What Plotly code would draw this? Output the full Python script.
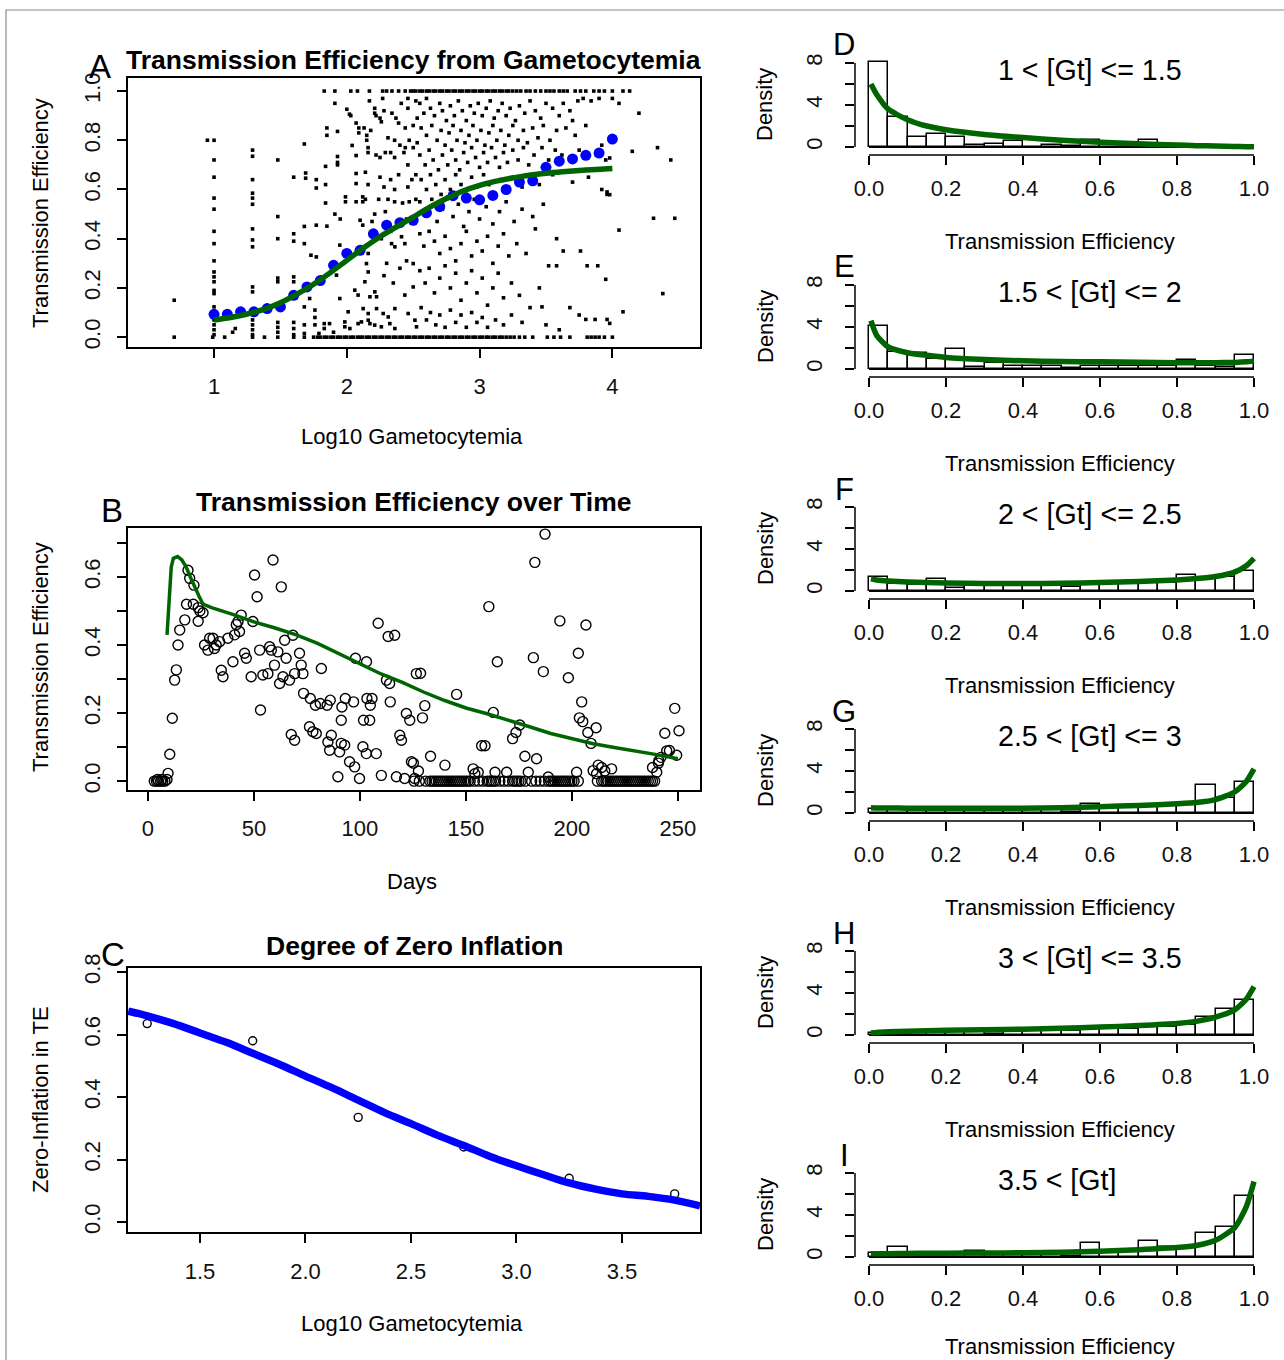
import plotly.graph_objects as go

W, H = 1284, 1360
FONT = "Liberation Sans, Arial, Helvetica, sans-serif"
GREEN = "#006400"
BLUE = "#0000ff"

# ---------------- Panel A : TE vs log10 gametocytemia ----------------
A_row0_x = [0.70, 0.99, 1.08, 1.29, 1.38, 1.48, 1.60, 1.68, 1.75, 1.78, 1.80, 1.83, 1.85, 1.88,
            1.90, 1.93, 1.95, 1.98, 2.00, 2.03, 2.05, 2.08, 2.10, 2.12, 2.15, 2.17, 2.20, 2.22,
            2.25, 2.27, 2.30, 2.32, 2.35, 2.37, 2.40, 2.42, 2.45, 2.47, 2.50, 2.52, 2.55, 2.57,
            2.60, 2.62, 2.65, 2.67, 2.70, 2.72, 2.75, 2.77, 2.80, 2.82, 2.85, 2.87, 2.90, 2.92,
            2.95, 2.97, 3.00, 3.02, 3.05, 3.07, 3.10, 3.12, 3.15, 3.17, 3.20, 3.23, 3.26, 3.30,
            3.34, 3.40, 3.51, 3.56, 3.61, 3.68, 3.81, 3.84, 3.87, 3.90, 3.94, 4.00]
A_row1_x = [1.83, 1.91, 2.03, 2.08, 2.17, 2.27, 2.30, 2.34, 2.39, 2.44, 2.48, 2.50, 2.52, 2.55,
            2.57, 2.60, 2.62, 2.65, 2.67, 2.70, 2.72, 2.75, 2.77, 2.80, 2.82, 2.85, 2.87, 2.90,
            2.92, 2.95, 2.97, 3.00, 3.02, 3.05, 3.07, 3.10, 3.12, 3.15, 3.17, 3.20, 3.22, 3.25,
            3.28, 3.31, 3.35, 3.38, 3.42, 3.46, 3.50, 3.53, 3.56, 3.60, 3.63, 3.66, 3.72, 3.76,
            3.80, 3.86, 3.90, 3.94, 4.00, 4.08, 4.13]
A_cloud = [
    (0.95, 0.80), (0.70, 0.15),
    (1.0, 0.80), (1.0, 0.72), (1.0, 0.65), (1.0, 0.565), (1.0, 0.52), (1.0, 0.43), (1.0, 0.38),
    (1.0, 0.31), (1.0, 0.265), (1.0, 0.245), (1.0, 0.225), (1.0, 0.19), (1.0, 0.177), (1.0, 0.123),
    (1.0, 0.07), (1.0, 0.05), (1.0, 0.03), (1.0, 0.01),
    (1.29, 0.76), (1.29, 0.735), (1.29, 0.64), (1.29, 0.585), (1.29, 0.565), (1.29, 0.54),
    (1.29, 0.44), (1.29, 0.395), (1.29, 0.367), (1.29, 0.204), (1.29, 0.184), (1.29, 0.07),
    (1.29, 0.05), (1.29, 0.03), (1.29, 0.01), (1.14, 0.02), (1.16, 0.035),
    (1.48, 0.72), (1.48, 0.49), (1.48, 0.40), (1.48, 0.24), (1.48, 0.225), (1.48, 0.06),
    (1.48, 0.04), (1.48, 0.02),
    (1.60, 0.65), (1.60, 0.42), (1.60, 0.39), (1.60, 0.245), (1.60, 0.225), (1.60, 0.06),
    (1.60, 0.035), (1.60, 0.01),
    (1.68, 0.785), (1.69, 0.667), (1.69, 0.646), (1.68, 0.45), (1.68, 0.38), (1.72, 0.157),
    (1.68, 0.123), (1.68, 0.05), (1.68, 0.015),
    (1.77, 0.64), (1.77, 0.606), (1.77, 0.455), (1.73, 0.333), (1.77, 0.326), (1.76, 0.11),
    (1.76, 0.08), (1.76, 0.05), (1.79, 0.015),
    (1.84, 0.694), (1.84, 0.62), (1.84, 0.545), (1.85, 0.451), (1.85, 0.85), (1.85, 0.82),
    (1.83, 0.035), (1.83, 0.055), (1.87, 0.055),
    (1.91, 0.95), (1.93, 0.836), (1.93, 0.734), (1.93, 0.71), (1.93, 0.70), (1.91, 0.50),
    (1.95, 0.48), (1.947, 0.374), (1.922, 0.252), (1.947, 0.157), (1.99, 0.57), (1.99, 0.55),
    (2.00, 0.926), (2.02, 0.906), (2.03, 0.90), (2.01, 0.103), (1.985, 0.042), (2.023, 0.035),
    (1.985, 0.062), (1.90, 0.02),
    (2.04, 0.779), (2.07, 0.738), (2.07, 0.665), (2.07, 0.624), (2.07, 0.55), (2.07, 0.87),
    (2.09, 0.85), (2.09, 0.83), (2.13, 0.85), (2.15, 0.82), (2.18, 0.84), (2.15, 0.80),
    (2.16, 0.77), (2.16, 0.75), (2.12, 0.57), (2.14, 0.67), (2.16, 0.62), (2.12, 0.55),
    (2.14, 0.56), (2.10, 0.475), (2.12, 0.455), (2.06, 0.191), (2.136, 0.225), (2.148, 0.299),
    (2.161, 0.34), (2.174, 0.164), (2.161, 0.265), (2.085, 0.171), (2.123, 0.116), (2.161, 0.069),
    (2.085, 0.055), (2.11, 0.062), (2.174, 0.055), (2.161, 0.096), (2.19, 0.47),
    (2.21, 0.93), (2.21, 0.91), (2.22, 0.90), (2.25, 0.89), (2.26, 0.875), (2.17, 0.96),
    (2.27, 0.97), (2.22, 0.74), (2.25, 0.73), (2.29, 0.75), (2.33, 0.75), (2.36, 0.73),
    (2.43, 0.75), (2.25, 0.65), (2.28, 0.61), (2.33, 0.64), (2.36, 0.60), (2.39, 0.66),
    (2.46, 0.61), (2.49, 0.64), (2.52, 0.66), (2.24, 0.56), (2.31, 0.56), (2.36, 0.55),
    (2.42, 0.545), (2.47, 0.55), (2.52, 0.56), (2.21, 0.50), (2.29, 0.51), (2.28, 0.92),
    (2.34, 0.91), (2.37, 0.89), (2.39, 0.87), (2.44, 0.85), (2.50, 0.86), (2.53, 0.89),
    (2.46, 0.93), (2.41, 0.95), (2.46, 0.97), (2.52, 0.96), (2.47, 0.80), (2.40, 0.78),
    (2.44, 0.77), (2.36, 0.80), (2.31, 0.81), (2.53, 0.79), (2.50, 0.77), (2.46, 0.70),
    (2.211, 0.184), (2.224, 0.164), (2.224, 0.116), (2.274, 0.096), (2.324, 0.055),
    (2.362, 0.035), (2.312, 0.082), (2.362, 0.116), (2.412, 0.408), (2.437, 0.38),
    (2.337, 0.38), (2.362, 0.367), (2.50, 0.299), (2.50, 0.204), (2.437, 0.171),
    (2.462, 0.096), (2.513, 0.069), (2.525, 0.042), (2.26, 0.042), (2.21, 0.049),
    (2.30, 0.30), (2.28, 0.25), (2.35, 0.22), (2.40, 0.28), (2.45, 0.31), (2.38, 0.46),
    (2.45, 0.48), (2.26, 0.40), (2.33, 0.43),
    (2.55, 0.95), (2.58, 0.91), (2.60, 0.97), (2.63, 0.93), (2.66, 0.90), (2.70, 0.95),
    (2.72, 0.92), (2.75, 0.88), (2.78, 0.94), (2.81, 0.90), (2.84, 0.96), (2.87, 0.92),
    (2.90, 0.88), (2.93, 0.94), (2.96, 0.91), (2.99, 0.95), (3.02, 0.90), (3.05, 0.93),
    (3.08, 0.96), (3.11, 0.89), (3.14, 0.92), (3.17, 0.95), (3.20, 0.90), (3.23, 0.93),
    (3.27, 0.88), (3.30, 0.94), (3.34, 0.91), (3.38, 0.96), (3.42, 0.92), (3.46, 0.89),
    (3.50, 0.95), (3.55, 0.93), (3.60, 0.90), (3.63, 0.95), (3.68, 0.92), (3.74, 0.96),
    (3.78, 0.97), (3.84, 0.96), (3.90, 0.97), (4.00, 0.97), (4.05, 0.95),
    (2.56, 0.85), (2.60, 0.82), (2.64, 0.86), (2.68, 0.80), (2.71, 0.84), (2.74, 0.78),
    (2.77, 0.83), (2.80, 0.86), (2.83, 0.80), (2.86, 0.84), (2.89, 0.79), (2.92, 0.82),
    (2.95, 0.86), (2.98, 0.80), (3.01, 0.84), (3.04, 0.78), (3.07, 0.83), (3.10, 0.86),
    (3.13, 0.80), (3.16, 0.84), (3.19, 0.78), (3.22, 0.82), (3.25, 0.86), (3.29, 0.80),
    (3.33, 0.84), (3.36, 0.79), (3.40, 0.85), (3.44, 0.81), (3.48, 0.86), (3.53, 0.80),
    (3.58, 0.84), (3.65, 0.85), (3.72, 0.82), (3.80, 0.86), (3.70, 0.88),
    (2.55, 0.74), (2.59, 0.70), (2.62, 0.76), (2.65, 0.72), (2.69, 0.68), (2.72, 0.74),
    (2.76, 0.70), (2.79, 0.76), (2.82, 0.72), (2.85, 0.68), (2.88, 0.75), (2.91, 0.71),
    (2.94, 0.77), (2.97, 0.73), (3.00, 0.69), (3.03, 0.75), (3.06, 0.71), (3.09, 0.77),
    (3.12, 0.73), (3.15, 0.69), (3.18, 0.75), (3.21, 0.71), (3.25, 0.76), (3.29, 0.72),
    (3.33, 0.77), (3.37, 0.70), (3.41, 0.74), (3.47, 0.77), (3.52, 0.72), (3.57, 0.76),
    (3.62, 0.74), (3.75, 0.76), (3.88, 0.74), (3.95, 0.72), (3.92, 0.78),
    (2.56, 0.64), (2.60, 0.60), (2.63, 0.66), (2.67, 0.62), (2.71, 0.58), (2.74, 0.64),
    (2.78, 0.60), (2.82, 0.66), (2.86, 0.62), (2.90, 0.58), (2.94, 0.65), (2.98, 0.61),
    (3.03, 0.66), (3.07, 0.62), (3.11, 0.58), (3.16, 0.64), (3.20, 0.60), (3.26, 0.65),
    (3.32, 0.61), (3.38, 0.66), (3.45, 0.62), (3.55, 0.66), (3.70, 0.63), (3.92, 0.60),
    (3.96, 0.58), (3.82, 0.65),
    (2.55, 0.55), (2.60, 0.50), (2.64, 0.56), (2.68, 0.47), (2.72, 0.52), (2.76, 0.57),
    (2.80, 0.49), (2.84, 0.54), (2.88, 0.45), (2.92, 0.51), (2.96, 0.56), (3.00, 0.48),
    (3.05, 0.53), (3.10, 0.46), (3.15, 0.51), (3.20, 0.55), (3.26, 0.47), (3.32, 0.52),
    (3.40, 0.49), (3.48, 0.54), (3.58, 0.40), (3.52, 0.29), (3.58, 0.29), (3.63, 0.35),
    (3.76, 0.35), (3.81, 0.29), (3.89, 0.29), (3.95, 0.235), (4.05, 0.435),
    (2.55, 0.42), (2.58, 0.37), (2.62, 0.43), (2.66, 0.39), (2.70, 0.34), (2.74, 0.41),
    (2.78, 0.36), (2.82, 0.31), (2.86, 0.38), (2.90, 0.43), (2.94, 0.33), (2.98, 0.39),
    (3.02, 0.35), (3.06, 0.41), (3.10, 0.30), (3.14, 0.37), (3.18, 0.42), (3.22, 0.33),
    (3.28, 0.38), (3.35, 0.34), (3.42, 0.44),
    (2.55, 0.27), (2.59, 0.22), (2.62, 0.28), (2.66, 0.18), (2.70, 0.24), (2.74, 0.29),
    (2.78, 0.20), (2.82, 0.26), (2.86, 0.15), (2.90, 0.22), (2.94, 0.27), (2.98, 0.18),
    (3.02, 0.24), (3.06, 0.13), (3.10, 0.20), (3.14, 0.26), (3.18, 0.16), (3.24, 0.22),
    (3.30, 0.17), (3.38, 0.12), (3.45, 0.20), (3.47, 0.123),
    (2.56, 0.12), (2.60, 0.07), (2.63, 0.10), (2.67, 0.05), (2.70, 0.09), (2.74, 0.04),
    (2.78, 0.11), (2.82, 0.06), (2.86, 0.09), (2.90, 0.04), (2.94, 0.10), (2.98, 0.06),
    (3.02, 0.08), (3.06, 0.04), (3.12, 0.07), (3.18, 0.05), (3.24, 0.09), (3.32, 0.06),
    (3.50, 0.05), (3.68, 0.12), (3.75, 0.09), (3.80, 0.072), (3.87, 0.072), (3.96, 0.072),
    (3.98, 0.056), (3.60, 0.03),
    (4.20, 0.91), (4.15, 0.755), (4.34, 0.77), (4.44, 0.72), (3.98, 0.728), (3.98, 0.579),
    (3.96, 0.59), (4.31, 0.483), (4.47, 0.483), (4.38, 0.177), (4.08, 0.103),
]
A_bin_x = [1.0, 1.1, 1.2, 1.3, 1.4, 1.5, 1.6, 1.7, 1.8, 1.9, 2.0, 2.1, 2.2, 2.3, 2.4, 2.5,
           2.6, 2.7, 2.8, 2.9, 3.0, 3.1, 3.2, 3.3, 3.4, 3.5, 3.6, 3.7, 3.8, 3.9, 4.0]
A_bin_mean = [0.093, 0.093, 0.103, 0.103, 0.116, 0.123, 0.17, 0.204, 0.23, 0.292, 0.34, 0.353,
              0.42, 0.455, 0.465, 0.475, 0.505, 0.53, 0.575, 0.565, 0.558, 0.576, 0.60, 0.63,
              0.635, 0.69, 0.715, 0.724, 0.739, 0.748, 0.805]
A_fit_x = [1.0, 1.125, 1.25, 1.375, 1.5, 1.625, 1.75, 1.875, 2.0, 2.125, 2.25, 2.375, 2.5,
           2.625, 2.75, 2.875, 3.0, 3.125, 3.25, 3.375, 3.5, 3.625, 3.75, 3.875, 4.0]
A_fit_y = [0.07, 0.08, 0.094, 0.113, 0.14, 0.175, 0.215, 0.262, 0.312, 0.362, 0.408, 0.448,
           0.488, 0.528, 0.563, 0.594, 0.617, 0.634, 0.647, 0.658, 0.666, 0.672, 0.677, 0.681,
           0.685]

# ---------------- Panel B : TE over time ----------------
B_days = [3, 4, 5, 6, 7, 8, 4.5, 6.5, 9, 9.5, 10.3, 11.5, 12.6, 13.4, 14.2, 15, 17.4, 18.9, 19.7,
          21.7, 18.2, 21.4, 23.7, 26, 24.5, 23.7,
          26.7, 29.1, 30.7, 32.2, 33.8, 28.3, 31.4, 37.7, 40.9, 43.2, 44, 42.5, 41.7, 49.5,
          34.6, 35.4, 40.1, 45.6, 46.4, 48.7, 52.7, 54.2, 56.6, 57.4, 58.2, 59.7, 61.3, 62.1,
          63.7, 65.2, 66.8, 68.4, 69.2, 71.5, 72.3, 73.1, 81.8, 64.5,
          59, 50.3, 62.9, 51.5, 53.1,
          67.6, 69.2, 76.2, 77.8, 79.4, 86.5, 84.9, 85.7, 91.2, 92.8, 90.4, 95.1, 97.5, 101.4,
          103, 107.7, 104.6, 91.2,
          73.4, 76.6, 79, 81.3, 84.5, 86, 91.5, 93.1, 97, 103.3, 105.7, 104.9, 114.3, 101.7,
          97.9, 103.1, 108.6, 113.3, 116.4, 112.5, 114, 121.9, 123.5, 118.8, 119.6, 124.3,
          125.8, 89.6, 99.8, 110.1, 117.2, 121.1, 126.6,
          187.3, 182.5, 160.8, 194.3, 206.6, 203, 181.8, 186.5, 198.3, 164.8, 128.6, 145.6,
          130.6, 129.5, 162.9, 204.6, 203.5, 205.1, 211.4, 207.5, 209, 175.4, 173.6, 172,
          159, 157.4, 177.8, 183.3, 133.3, 248.5, 250.5, 243.8, 249.4, 244.7, 240.8, 240,
          125.2, 127.6, 140.1, 153.4, 154.2, 155.8, 163.7, 169.2, 179.4, 188.8, 202.2, 210,
          212.4, 218.7, 211.6, 214, 215.5, 238, 241, 242, 246]
B_te = [0, 0, 0, 0, 0, 0, 0.005, 0.005, 0.005, 0.023, 0.079, 0.185, 0.297, 0.327, 0.40, 0.444,
        0.474, 0.62, 0.596, 0.576, 0.52, 0.52, 0.51, 0.495, 0.50, 0.47,
        0.40, 0.42, 0.42, 0.40, 0.41, 0.385, 0.39, 0.42, 0.43, 0.44, 0.488, 0.469, 0.46, 0.469,
        0.326, 0.307, 0.351, 0.376, 0.361, 0.307, 0.385, 0.312, 0.316, 0.395, 0.385, 0.341,
        0.38, 0.287, 0.307, 0.361, 0.297, 0.429, 0.316, 0.376, 0.341, 0.316, 0.331, 0.414,
        0.65, 0.606, 0.571, 0.542, 0.209,
        0.137, 0.12, 0.16, 0.145, 0.14, 0.135, 0.115, 0.091, 0.111, 0.106, 0.086, 0.057, 0.042,
        0.101, 0.081, 0.081, 0.179, 0.179,
        0.258, 0.243, 0.223, 0.228, 0.223, 0.238, 0.218, 0.243, 0.233, 0.243, 0.243, 0.223,
        0.233, 0.179,
        0.361, 0.351, 0.464, 0.425, 0.429, 0.297, 0.287, 0.199, 0.179, 0.135, 0.12, 0.057,
        0.008, 0.013, 0.008, 0.017, 0.013, 0.008, 0.316,
        0.726, 0.643, 0.513, 0.471, 0.459, 0.376, 0.363, 0.322, 0.304, 0.351, 0.317, 0.255,
        0.222, 0.186, 0.202, 0.233, 0.186, 0.175, 0.157, 0.143, 0.111, 0.165, 0.143, 0.125,
        0.104, 0.104, 0.073, 0.066, 0.073, 0.214, 0.148, 0.141, 0.076, 0.089, 0.053, 0.026,
        0.053, 0.03, 0.047, 0.036, 0.022, 0.026, 0.026, 0.026, 0.026, 0.012, 0.026, 0.031,
        0.047, 0.036, 0.022, 0.04, 0.03, 0.04, 0.06, 0.07, 0.09]
B_zero_days = [125.5, 128, 131, 133, 134, 135, 136, 137, 138, 139, 140, 141, 142, 143, 144, 145,
               146, 147, 148, 149, 150, 151, 152, 154, 156, 158, 160, 161, 162, 163, 164, 166,
               168, 170, 172, 173, 174, 175, 176, 178, 181, 183, 185, 187, 189, 190, 191, 192,
               193, 194, 195, 196, 197, 198, 199, 200, 201, 203, 212, 214, 215, 216, 217, 218,
               219, 220, 221, 222, 223, 224, 225, 226, 227, 228, 229, 230, 231, 232, 233, 234,
               235, 236, 237, 238, 239]
B_fit_days = [9, 10, 11, 12, 14, 16, 18, 20, 22, 24, 26, 30, 40, 50, 60, 70, 80, 90, 100, 110,
              120, 130, 140, 150, 160, 170, 180, 190, 200, 210, 220, 230, 240, 250]
B_fit_te = [0.43, 0.55, 0.63, 0.655, 0.66, 0.65, 0.63, 0.60, 0.57, 0.545, 0.52, 0.51, 0.49,
            0.468, 0.45, 0.43, 0.405, 0.375, 0.345, 0.315, 0.29, 0.262, 0.237, 0.215, 0.198,
            0.18, 0.16, 0.14, 0.125, 0.11, 0.099, 0.089, 0.078, 0.066]

# ---------------- Panel C : zero inflation ----------------
C_pts_x = [1.25, 1.75, 2.25, 2.75, 3.25, 3.75]
C_pts_y = [0.635, 0.58, 0.335, 0.24, 0.14, 0.09]
C_fit_x = [1.16, 1.25, 1.375, 1.5, 1.625, 1.75, 1.875, 2.0, 2.125, 2.25, 2.375, 2.5, 2.625,
           2.75, 2.875, 3.0, 3.125, 3.25, 3.375, 3.5, 3.625, 3.75, 3.87]
C_fit_y = [0.675, 0.66, 0.635, 0.605, 0.575, 0.54, 0.505, 0.467, 0.43, 0.39, 0.35, 0.315,
           0.278, 0.245, 0.21, 0.18, 0.152, 0.125, 0.105, 0.09, 0.082, 0.07, 0.052]

# ---------------- Panels D-I : histograms ----------------
HIST_CENTERS = [0.025, 0.075, 0.125, 0.175, 0.225, 0.275, 0.325, 0.375, 0.425, 0.475,
                0.525, 0.575, 0.625, 0.675, 0.725, 0.775, 0.825, 0.875, 0.925, 0.975]
HIST_LABELS = ["1 &lt; [Gt] &lt;= 1.5", "1.5 &lt; [Gt] &lt;= 2", "2 &lt; [Gt] &lt;= 2.5",
               "2.5 &lt; [Gt] &lt;= 3", "3 &lt; [Gt] &lt;= 3.5", "3.5 &lt; [Gt]"]
PANEL_LETTERS = ["D", "E", "F", "G", "H", "I"]
HIST_D = [8.1, 2.9, 1.0, 1.2, 1.0, 0.15, 0.3, 0.6, 0.0, 0.15, 0.1, 0.7, 0.3, 0.0, 0.7, 0.2, 0, 0, 0, 0]
HIST_E = [4.1, 1.6, 1.5, 0.95, 1.9, 0.15, 0.6, 0.3, 0.3, 0.3, 0.1, 0.3, 0.3, 0.3, 0.3, 0.3, 0.85, 0.3, 0.15, 1.3]
HIST_F = [1.3, 0.7, 0.6, 1.15, 0.3, 0.6, 0.6, 0.6, 0.6, 0.6, 0.4, 0.8, 0.8, 0.8, 0.8, 0.8, 1.5, 1.1, 1.3, 1.95]
HIST_G = [0.4, 0.4, 0.4, 0.4, 0.4, 0.4, 0.4, 0.4, 0.4, 0.4, 0.1, 0.9, 0.6, 0.6, 0.7, 0.8, 0.9, 2.65, 1.4, 3.0]
HIST_H = [0.2, 0.2, 0.2, 0.3, 0.3, 0.3, 0.05, 0.4, 0.5, 0.5, 0.4, 0.6, 0.6, 0.6, 0.8, 0.8, 1.0, 1.7, 2.5, 3.3]
HIST_I = [0.4, 1.0, 0.3, 0.3, 0.3, 0.6, 0.3, 0.3, 0.3, 0.3, 0.1, 1.3, 0.5, 0.5, 1.5, 1.0, 1.0, 2.3, 2.9, 5.8]
DENS_X = [0.005, 0.02, 0.05, 0.1, 0.15, 0.2, 0.3, 0.4, 0.5, 0.6, 0.7, 0.8, 0.85, 0.9, 0.95, 0.98, 1.0]
DENS_D = [6.0, 5.0, 3.6, 2.6, 2.0, 1.65, 1.2, 0.9, 0.65, 0.45, 0.3, 0.18, 0.13, 0.09, 0.05, 0.03, 0.02]
DENS_E = [4.6, 3.2, 2.1, 1.55, 1.3, 1.1, 0.9, 0.78, 0.72, 0.68, 0.64, 0.6, 0.6, 0.6, 0.63, 0.68, 0.75]
DENS_F = [1.15, 1.05, 0.95, 0.85, 0.8, 0.76, 0.72, 0.71, 0.74, 0.8, 0.9, 1.05, 1.18, 1.38, 1.8, 2.4, 3.1]
DENS_G = [0.5, 0.48, 0.47, 0.46, 0.45, 0.45, 0.45, 0.46, 0.5, 0.6, 0.72, 0.88, 1.0, 1.28, 2.0, 3.0, 4.2]
DENS_H = [0.2, 0.25, 0.3, 0.35, 0.4, 0.45, 0.5, 0.55, 0.65, 0.75, 0.9, 1.1, 1.3, 1.7, 2.4, 3.4, 4.6]
DENS_I = [0.3, 0.3, 0.32, 0.34, 0.35, 0.36, 0.38, 0.4, 0.45, 0.55, 0.7, 0.9, 1.1, 1.6, 2.8, 4.8, 7.2]
HISTS = [HIST_D, HIST_E, HIST_F, HIST_G, HIST_H, HIST_I]
DENSES = [DENS_D, DENS_E, DENS_F, DENS_G, DENS_H, DENS_I]

TICK_SIZE = 22
AXT_SIZE = 22


def px_x(p):
    return p / W


def px_y(p):
    return 1 - p / H


fig = go.Figure()
layout = dict(width=W, height=H,
              margin=dict(l=0, r=0, t=0, b=0, pad=0, autoexpand=False), autosize=False,
              paper_bgcolor="white", plot_bgcolor="white", showlegend=False,
              font=dict(family=FONT, color="black", size=21), bargap=0)
shapes = []
annotations = []


def axes(i, xdom, ydom, xrange, yrange, xtv, xtt, ytv, ytt, boxed, xstand, ystand):
    xn = "xaxis" if i == 1 else "xaxis%d" % i
    yn = "yaxis" if i == 1 else "yaxis%d" % i
    common = dict(showgrid=False, zeroline=False, ticks="outside", ticklen=9, tickwidth=1.5,
                  tickcolor="black", tickfont=dict(size=TICK_SIZE, family=FONT, color="#111"),
                  showline=boxed, mirror=boxed, linecolor="black", linewidth=2,
                  fixedrange=True, automargin=False)
    layout[xn] = dict(common, domain=[px_x(xdom[0]), px_x(xdom[1])], range=xrange,
                      tickmode="array", tickvals=xtv, ticktext=xtt,
                      anchor="y" if i == 1 else "y%d" % i, ticklabelstandoff=xstand)
    layout[yn] = dict(common, domain=[px_y(ydom[1]), px_y(ydom[0])], range=yrange,
                      tickmode="array", tickvals=ytv, ticktext=ytt, tickangle=-90,
                      anchor="x" if i == 1 else "x%d" % i, ticklabelstandoff=ystand)


def ref(i):
    return ("x", "y") if i == 1 else ("x%d" % i, "y%d" % i)


def note(text, x, y, size=21, angle=0, bold=False, xanchor="center", color="black"):
    annotations.append(dict(text=("<b>%s</b>" % text) if bold else text, x=px_x(x), y=px_y(y),
                            xref="paper", yref="paper", showarrow=False, textangle=angle,
                            xanchor=xanchor, yanchor="middle",
                            font=dict(size=size, family=FONT, color=color)))


# ---- Panel A ----
axes(1, (128, 700), (78, 347), [0.352, 4.66], [-0.04, 1.053],
     [1, 2, 3, 4], ["1", "2", "3", "4"],
     [0, 0.2, 0.4, 0.6, 0.8, 1.0], ["0.0", "0.2", "0.4", "0.6", "0.8", "1.0"], True, 10, 8)
xa, ya = ref(1)
dot = dict(symbol="square", size=3.6, color="black", line=dict(width=0))
fig.add_trace(go.Scatter(x=A_row0_x, y=[0.0] * len(A_row0_x), mode="markers", marker=dot,
                         xaxis=xa, yaxis=ya))
fig.add_trace(go.Scatter(x=A_row1_x, y=[1.0] * len(A_row1_x), mode="markers", marker=dot,
                         xaxis=xa, yaxis=ya))
fig.add_trace(go.Scatter(x=[p[0] for p in A_cloud], y=[p[1] for p in A_cloud], mode="markers",
                         marker=dot, xaxis=xa, yaxis=ya))
fig.add_trace(go.Scatter(x=A_bin_x, y=A_bin_mean, mode="markers",
                         marker=dict(size=11, color=BLUE), xaxis=xa, yaxis=ya))
fig.add_trace(go.Scatter(x=A_fit_x, y=A_fit_y, mode="lines",
                         line=dict(color=GREEN, width=5.5, shape="spline"), xaxis=xa, yaxis=ya))

# ---- Panel B ----
axes(2, (128, 700), (528, 790), [-9.4, 260.4], [-0.026, 0.744],
     [0, 50, 100, 150, 200, 250], ["0", "50", "100", "150", "200", "250"],
     [0, 0.1, 0.2, 0.3, 0.4, 0.5, 0.6, 0.7], ["0.0", "", "0.2", "", "0.4", "", "0.6", ""],
     True, 9, 8)
xa, ya = ref(2)
circ = dict(symbol="circle-open", size=10, color="black", line=dict(width=1.4, color="black"))
fig.add_trace(go.Scatter(x=B_days, y=B_te, mode="markers", marker=circ, xaxis=xa, yaxis=ya))
fig.add_trace(go.Scatter(x=B_zero_days, y=[0.0] * len(B_zero_days), mode="markers", marker=circ,
                         xaxis=xa, yaxis=ya))
fig.add_trace(go.Scatter(x=B_fit_days, y=B_fit_te, mode="lines", line=dict(color=GREEN, width=3.5),
                         xaxis=xa, yaxis=ya))

# ---- Panel C ----
axes(3, (128, 700), (968, 1232), [1.159, 3.87], [-0.032, 0.813],
     [1.5, 2.0, 2.5, 3.0, 3.5], ["1.5", "2.0", "2.5", "3.0", "3.5"],
     [0, 0.2, 0.4, 0.6, 0.8], ["0.0", "0.2", "0.4", "0.6", "0.8"], True, 10, 8)
xa, ya = ref(3)
fig.add_trace(go.Scatter(x=C_pts_x, y=C_pts_y, mode="markers",
                         marker=dict(symbol="circle-open", size=8, color="black", line=dict(width=1.4)),
                         xaxis=xa, yaxis=ya))
fig.add_trace(go.Scatter(x=C_fit_x, y=C_fit_y, mode="lines",
                         line=dict(color=BLUE, width=7.5, shape="spline"), xaxis=xa, yaxis=ya))

# ---- Panels D-I ----
for k in range(6):
    i = 4 + k
    top = 50 + 222 * k
    axes(i, (855, 1270), (top, top + 105), [-0.03636, 1.04156], [-0.762, 9.238],
         [0, 0.2, 0.4, 0.6, 0.8, 1.0], ["0.0", "0.2", "0.4", "0.6", "0.8", "1.0"],
         [0, 2, 4, 6, 8], ["0", "", "4", "", "8"], False, 5, 14)
    xa, ya = ref(i)
    fig.add_trace(go.Bar(x=HIST_CENTERS, y=HISTS[k], width=0.05, xaxis=xa, yaxis=ya,
                         marker=dict(color="rgba(255,255,255,0)", line=dict(color="black", width=1.5))))
    fig.add_trace(go.Scatter(x=DENS_X, y=DENSES[k], mode="lines",
                             line=dict(color=GREEN, width=5.5, shape="spline", smoothing=0.6),
                             xaxis=xa, yaxis=ya))
    # R-style axis lines spanning first to last tick, and histogram base line
    shapes.append(dict(type="line", xref=xa, yref=ya + " domain", x0=0, x1=1, y0=0, y1=0,
                       line=dict(color="black", width=1.5)))
    shapes.append(dict(type="line", xref=xa + " domain", yref=ya, x0=0, x1=0, y0=0, y1=8,
                       line=dict(color="black", width=1.5)))
    shapes.append(dict(type="line", xref=xa, yref=ya, x0=0, x1=1, y0=0, y1=0, layer="below",
                       line=dict(color="black", width=2)))
    note("Density", 765, top + 55, size=AXT_SIZE, angle=-90)
    note("Transmission Efficiency", 1060, min(top + 191, 1346), size=AXT_SIZE)
    note(PANEL_LETTERS[k], 844, top - 5, size=31)
    note(HIST_LABELS[k], 996, top + 20, size=28.6, xanchor="left")

# ---- left-panel texts ----
note("Transmission Efficiency from Gametocytemia", 413, 60, size=26.5, bold=True)
note("Transmission Efficiency over Time", 413, 502, size=26.5, bold=True)
note("Degree of Zero Inflation", 414, 946, size=26.5, bold=True)
note("A", 100, 66, size=33)
note("B", 112, 510, size=33)
note("C", 113, 955, size=33)
note("Log10 Gametocytemia", 412, 437, size=AXT_SIZE)
note("Days", 412, 881, size=AXT_SIZE)
note("Log10 Gametocytemia", 412, 1323, size=AXT_SIZE)
note("Transmission Efficiency", 40, 213, size=AXT_SIZE, angle=-90)
note("Transmission Efficiency", 40, 657, size=AXT_SIZE, angle=-90)
note("Zero-Inflation in TE", 40, 1100, size=AXT_SIZE, angle=-90)

# outer frame of the figure
shapes.append(dict(type="rect", xref="paper", yref="paper", x0=px_x(6), x1=1.01, y0=-0.01,
                   y1=px_y(10), line=dict(color="#8a8a8a", width=1.2), layer="below"))

layout["shapes"] = shapes
layout["annotations"] = annotations
fig.update_layout(**layout)
fig.write_html("out.html", config={"displayModeBar": False},
               post_script="document.body.style.margin='0px';")
